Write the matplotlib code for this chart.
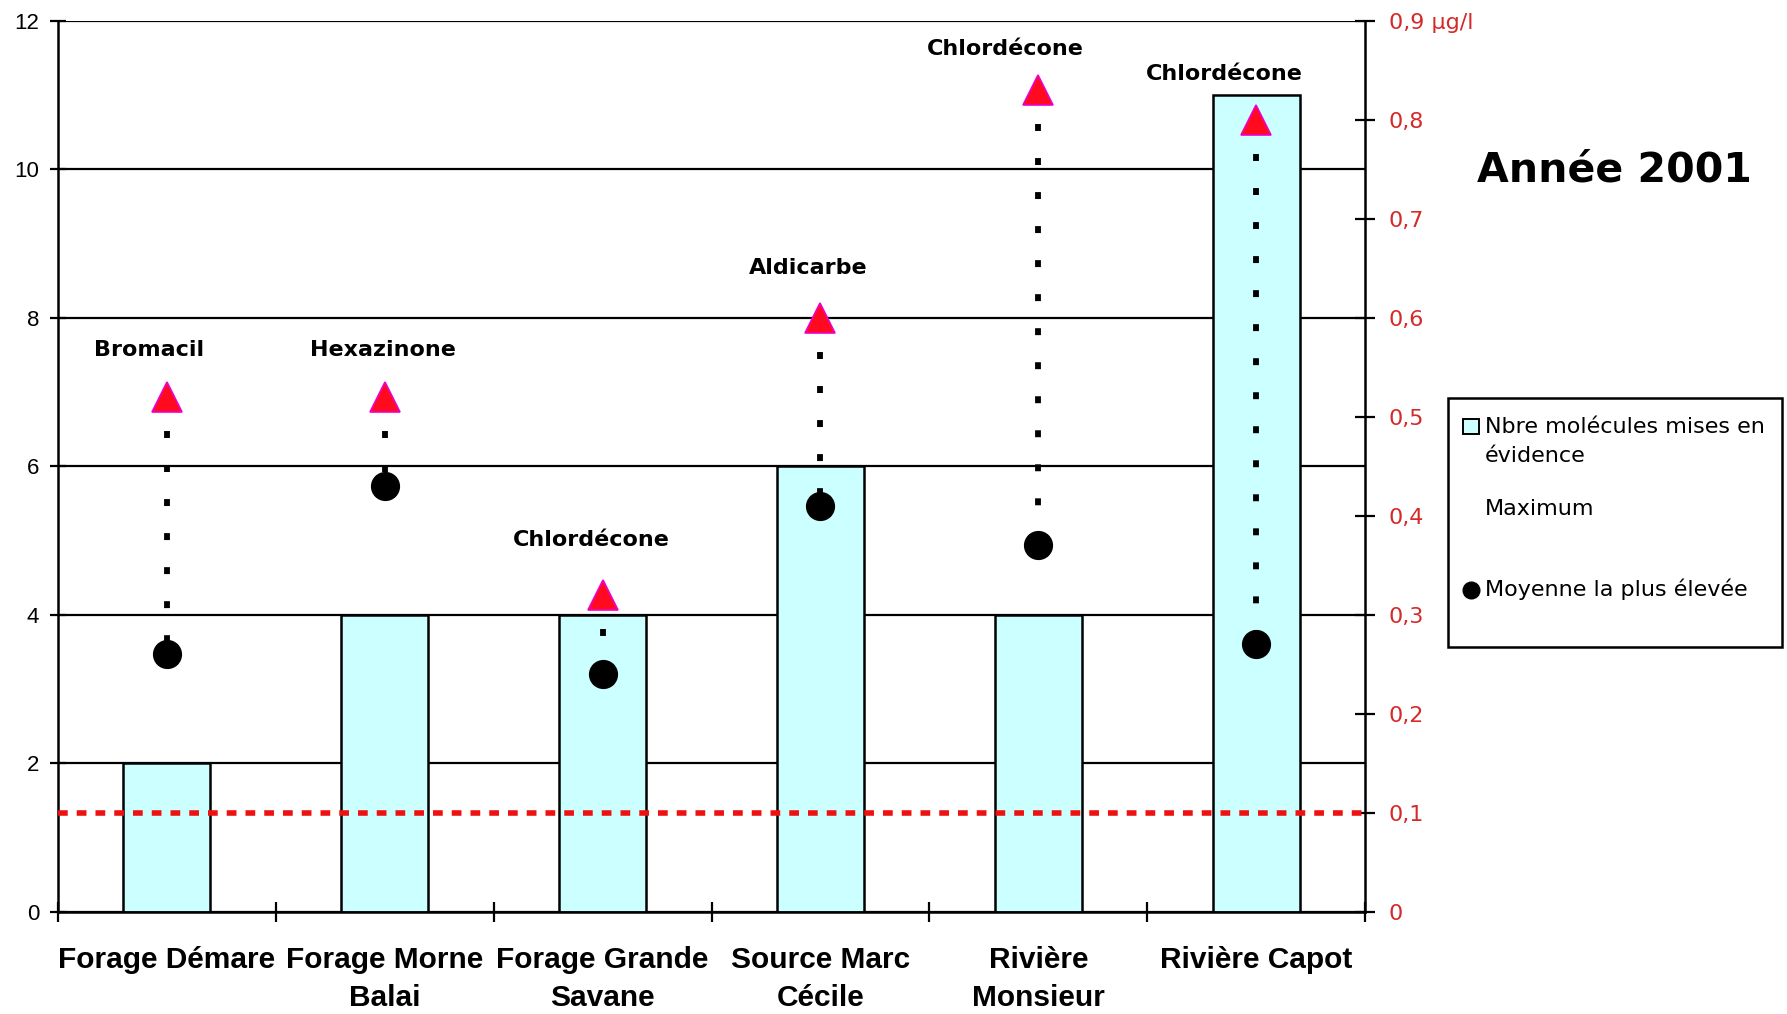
import matplotlib
matplotlib.use("Agg")
import matplotlib.pyplot as plt
from matplotlib import transforms
from matplotlib.patches import Rectangle
from matplotlib.lines import Line2D

# ---- data ----
sites = ["Forage Démare", "Forage Morne\nBalai", "Forage Grande\nSavane",
         "Source Marc\nCécile", "Rivière\nMonsieur", "Rivière Capot"]
n_molecules = [2, 4, 4, 6, 4, 11]                 # left axis
max_molecule = ["Bromacil", "Hexazinone", "Chlordécone", "Aldicarbe",
                "Chlordécone", "Chlordécone"]
max_value = [0.52, 0.52, 0.32, 0.60, 0.83, 0.80]  # µg/l, right axis
mean_value = [0.26, 0.43, 0.24, 0.41, 0.37, 0.27]  # µg/l, right axis
threshold = 0.1                                    # µg/l limit
left_ticks = [0, 2, 4, 6, 8, 10, 12]
right_ticks = [0, 0.1, 0.2, 0.3, 0.4, 0.5, 0.6, 0.7, 0.8, 0.9]
right_ticklabels = ["0", "0,1", "0,2", "0,3", "0,4", "0,5", "0,6", "0,7", "0,8", "0,9 µg/l"]
legend_labels = ["Nbre molécules mises en\névidence", "Maximum", "Moyenne la plus élevée"]
title = "Année 2001"

# label nudges (pixels) for the molecule names above the maxima
label_nudge = [(-18, 47), (-2, 47), (-11, 55), (-12, 50), (-33, 41), (-32, 46)]

W, H = 1787, 1014
plt.rcParams["lines.scale_dashes"] = False
fig = plt.figure(figsize=(W / 100, H / 100), dpi=100)
fig.patch.set_facecolor("white")


def fx(px):
    return px / W


def fy(py):
    return 1 - py / H


x0, x1, ytop, ybot = 58, 1365, 20.7, 911.7
ax = fig.add_axes([fx(x0), fy(ybot), fx(x1 - x0), (ybot - ytop) / H])
ax2 = ax.twinx()

xs = list(range(len(sites)))
bar_color = "#ccffff"
red = "#d42a2a"

# bars: number of molecules detected
ax.set_axisbelow(True)
ax.bar(xs, n_molecules, width=0.4, color=bar_color, edgecolor="black",
       linewidth=1.8, zorder=2)
ax.set_xlim(-0.5, len(sites) - 0.5)
ax.set_ylim(0, 12)
ax.set_yticks(left_ticks)
ax.set_yticklabels([str(t) for t in left_ticks], family="Liberation Sans", fontsize=16)
ax.yaxis.grid(True, color="black", linewidth=1.6)
ax.tick_params(axis="y", direction="inout", length=11, width=1.6, pad=8)

# x axis: ticks at category boundaries, labels drawn separately
ax.set_xticks([i - 0.5 for i in range(len(sites) + 1)])
ax.set_xticklabels([])
ax.tick_params(axis="x", direction="inout", length=14, width=1.6)

for side in ["top", "right"]:
    ax.spines[side].set_visible(False)
ax.spines["left"].set_linewidth(1.8)
ax.spines["bottom"].set_linewidth(1.8)

# secondary axis in µg/l
ax2.set_ylim(0, 0.9)
ax2.set_yticks(right_ticks)
ax2.set_yticklabels(right_ticklabels, color=red, fontsize=16, family="DejaVu Sans")
ax2.tick_params(axis="y", direction="inout", length=14, width=1.6, pad=10)
for side in ["top", "left", "bottom"]:
    ax2.spines[side].set_visible(False)
ax2.spines["right"].set_linewidth(1.8)

# threshold line
ax2.axhline(threshold, color="#ee1111", linewidth=4, dashes=(7, 6.5), zorder=3)

# drop lines between maximum and highest mean
for x, mx, mn in zip(xs, max_value, mean_value):
    ax2.plot([x, x], [mx, mn], color="black", linewidth=4.2,
             dashes=(5, 19.5), dash_capstyle="butt", zorder=4)

ax2.plot(xs, max_value, linestyle="none", marker="^", markersize=21,
         markerfacecolor="#ff0a1e", markeredgecolor="#ee00cc",
         markeredgewidth=1.2, zorder=5)
ax2.plot(xs, mean_value, linestyle="none", marker="o", markersize=20,
         markerfacecolor="black", markeredgecolor="black", zorder=5)

for x, mx, name, (dx, dy) in zip(xs, max_value, max_molecule, label_nudge):
    ax2.annotate(name, (x, mx), xytext=(dx, dy), textcoords="offset pixels",
                 ha="center", va="center", fontsize=16, fontweight="bold",
                 family="DejaVu Sans", zorder=6)

# category labels
blend = transforms.blended_transform_factory(ax.transData, fig.transFigure)
for x, name in zip(xs, sites):
    for k, line in enumerate(name.split("\n")):
        fig.text(x, fy(968 + 38 * k), line, transform=blend, ha="center",
                 va="baseline", fontsize=21.5, fontweight="bold",
                 family="Liberation Sans")

# title
fig.text(fx(1614), fy(170), title, ha="center", va="center", fontsize=29.5,
         fontweight="bold", family="DejaVu Sans")

# legend box
lx0, ly0, lx1, ly1 = 1448, 398, 1782, 647
fig.add_artist(Rectangle((fx(lx0), fy(ly1)), fx(lx1 - lx0), (ly1 - ly0) / H,
                         transform=fig.transFigure, facecolor="white",
                         edgecolor="black", linewidth=1.8))
fig.add_artist(Rectangle((fx(1463), fy(434)), fx(16), 15 / H,
                         transform=fig.transFigure, facecolor=bar_color,
                         edgecolor="black", linewidth=1.4))
fig.add_artist(Line2D([fx(1471)], [fy(590)], transform=fig.transFigure,
                      marker="o", markersize=12, color="black", linestyle="none"))
first, second = legend_labels[0].split("\n")
legend_lines = [(first, 433), (second, 462), (legend_labels[1], 515), (legend_labels[2], 596)]
for text, base in legend_lines:
    fig.text(fx(1485), fy(base), text, ha="left", va="baseline", fontsize=16,
             family="DejaVu Sans")

fig.savefig("out.png", dpi=100, facecolor="white")
